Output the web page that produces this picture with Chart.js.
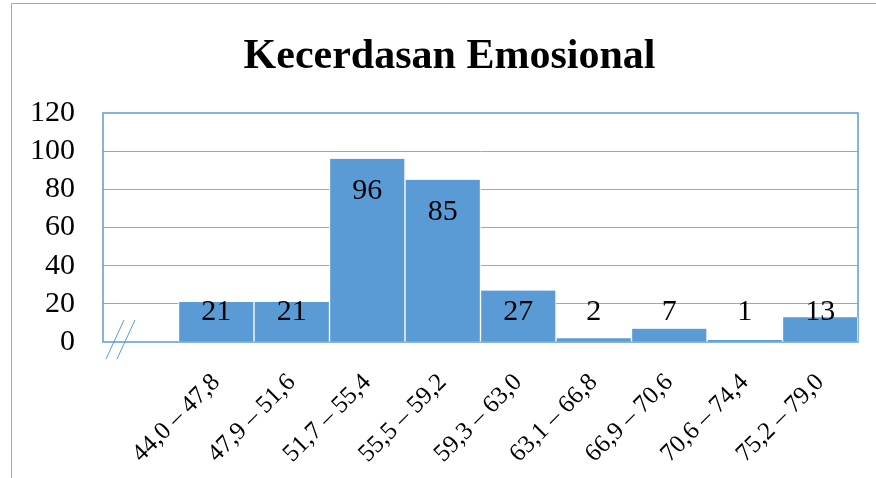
<!DOCTYPE html>
<html>
<head>
<meta charset="utf-8">
<script src="https://cdn.jsdelivr.net/npm/chart.js@4"></script>
<style>
  html, body { margin: 0; padding: 0; background: #fff; }
  #wrap { width: 876px; height: 478px; }
</style>
</head>
<body>
<div id="wrap"><canvas id="chart"></canvas></div>
<script>
const categories = ['', '44,0 – 47,8', '47,9 – 51,6', '51,7 – 55,4', '55,5 – 59,2',
    '59,3 – 63,0', '63,1 – 66,8', '66,9 – 70,6', '70,6 – 74,4', '75,2 – 79,0'];
const frequencies = [null, 21, 21, 96, 85, 27, 2, 7, 1, 13];
const yTicks = [0, 20, 40, 60, 80, 100, 120];
const chartTitle = 'Kecerdasan Emosional';

const serif = '"Liberation Serif", "Times New Roman", serif';
const barBlue = '#5b9bd5';

// outer frame, title, plot border and the "//" axis break
const decorations = {
    id: 'decorations',
    beforeDraw(chart) {
        const ctx = chart.ctx;
        ctx.save();
        ctx.strokeStyle = '#a6a6a6';
        ctx.lineWidth = 1;
        ctx.beginPath();
        ctx.moveTo(11.5, chart.height);
        ctx.lineTo(11.5, 3.5);
        ctx.lineTo(chart.width, 3.5);
        ctx.stroke();

        // title sits a bit right of the canvas centre, like the original
        ctx.fillStyle = '#000';
        ctx.font = 'bold 42px ' + serif;
        ctx.textAlign = 'center';
        ctx.textBaseline = 'alphabetic';
        ctx.fillText(chartTitle, 449.5, 68);
        ctx.restore();
    },
    beforeDatasetsDraw(chart) {
        const a = chart.chartArea;
        const ctx = chart.ctx;
        ctx.save();
        ctx.strokeStyle = barBlue;
        ctx.lineWidth = 1.5;
        ctx.strokeRect(a.left, a.top, a.right - a.left, a.bottom - a.top);
        ctx.lineWidth = 1;
        [0, 11].forEach(function (dx) {
            ctx.beginPath();
            ctx.moveTo(a.left + 3 + dx, a.bottom + 17);
            ctx.lineTo(a.left + 21 + dx, a.bottom - 22);
            ctx.stroke();
        });
        ctx.restore();
    }
};

// value labels inside the top of each bar
const valueLabels = {
    id: 'valueLabels',
    afterDatasetsDraw(chart) {
        const ctx = chart.ctx;
        const a = chart.chartArea;
        const meta = chart.getDatasetMeta(0);
        ctx.save();
        ctx.font = '30px ' + serif;
        ctx.fillStyle = '#000';
        ctx.textAlign = 'center';
        ctx.textBaseline = 'middle';
        meta.data.forEach(function (bar, i) {
            const v = frequencies[i];
            if (v === null) return;
            const y = Math.min(bar.y + 32, a.bottom - 29.5);
            ctx.fillText(String(v), bar.x, y);
        });
        ctx.restore();
    }
};

new Chart(document.getElementById('chart').getContext('2d'), {
    type: 'bar',
    data: {
        labels: categories,
        datasets: [{
            data: frequencies,
            backgroundColor: barBlue,
            borderColor: '#ffffff',
            borderWidth: { left: 1, right: 1, top: 0, bottom: 0 },
            borderSkipped: false,
            barPercentage: 1,
            categoryPercentage: 1
        }]
    },
    options: {
        responsive: true,
        maintainAspectRatio: false,
        animation: false,
        layout: { padding: { left: 0, right: 18, top: 113, bottom: 0 } },
        plugins: {
            legend: { display: false },
            tooltip: { enabled: false },
            title: { display: false }
        },
        scales: {
            x: {
                grid: { display: false },
                border: { display: false },
                ticks: {
                    color: '#000',
                    font: { family: serif, size: 25 },
                    minRotation: 45,
                    maxRotation: 45,
                    autoSkip: false,
                    padding: 18
                },
                afterFit(scale) { scale.height = 136; }
            },
            y: {
                min: 0,
                max: 120,
                afterBuildTicks(scale) {
                    scale.ticks = yTicks.map(function (v) { return { value: v }; });
                },
                grid: {
                    drawTicks: false,
                    color(c) {
                        if (c.tick && (c.tick.value === 0 || c.tick.value === 120)) return 'rgba(0,0,0,0)';
                        return '#a6a6a6';
                    },
                    lineWidth: 1
                },
                border: { display: false },
                ticks: {
                    color: '#000',
                    font: { family: serif, size: 30 },
                    padding: 28,
                    autoSkip: false
                },
                afterFit(scale) { scale.width = 103; }
            }
        }
    },
    plugins: [decorations, valueLabels]
});
</script>
</body>
</html>
